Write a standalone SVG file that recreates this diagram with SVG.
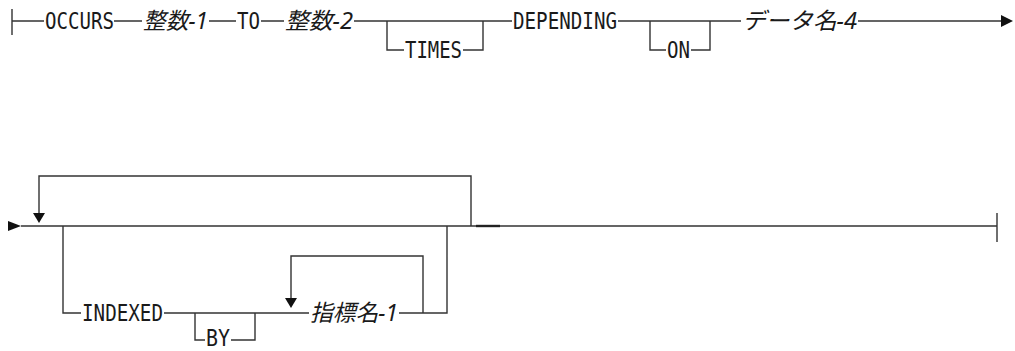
<svg xmlns="http://www.w3.org/2000/svg" width="1015" height="351" viewBox="0 0 1015 351">
<style>
.kw{font-family:"DejaVu Sans Mono","Liberation Mono",monospace;font-size:23px;fill:#1a1a1a}
.var{font-family:"Noto Sans","Noto Sans CJK JP",sans-serif;font-style:italic;font-size:23px;fill:#1a1a1a}
.ln{fill:none;stroke:#333;stroke-width:1.4}
.ah{fill:#111}
</style>
<rect width="1015" height="351" fill="#fff"/>
<g id="connectors">
<path class="ln" d="M12,9V35M12,21H44M114,21H142M209,21H236M261,21H284M354,21H512M387,21V50H404M463,50H483V21M618,21H741M650,21V50H666M691,50H710V21M858,21H1001"/>
<polygon class="ah" points="1001,15 1013,21 1001,27"/>
<path class="ln" d="M21,226H997M997,213V242M39,213V176H471V226M63,226V313H81M164,313H309M195,313V340H205M231,340H255V313M399,313H447V226M291,298V256H423V313"/>
<path d="M476,226H500" stroke="#222" stroke-width="2.4"/>
<polygon class="ah" points="8,221 21,226 8,231"/>
<polygon class="ah" points="33,213 45,213 39,223"/>
<polygon class="ah" points="285,298 297,298 291,308"/>
</g>
<g id="n-occurs"><text class="kw" x="45" y="29" textLength="69" lengthAdjust="spacingAndGlyphs">OCCURS</text></g>
<g id="n-int1"><text class="var" x="143" y="29" textLength="65" lengthAdjust="spacingAndGlyphs">整数-1</text></g>
<g id="n-to"><text class="kw" x="237" y="29" textLength="23" lengthAdjust="spacingAndGlyphs">TO</text></g>
<g id="n-int2"><text class="var" x="285" y="29" textLength="68" lengthAdjust="spacingAndGlyphs">整数-2</text></g>
<g id="n-times"><text class="kw" x="405" y="58" textLength="57" lengthAdjust="spacingAndGlyphs">TIMES</text></g>
<g id="n-depending"><text class="kw" x="513" y="29" textLength="104" lengthAdjust="spacingAndGlyphs">DEPENDING</text></g>
<g id="n-on"><text class="kw" x="667" y="58" textLength="23" lengthAdjust="spacingAndGlyphs">ON</text></g>
<g id="n-data4"><text class="var" x="742" y="29" textLength="115" lengthAdjust="spacingAndGlyphs">データ名-4</text></g>
<g id="n-indexed"><text class="kw" x="82" y="321" textLength="81" lengthAdjust="spacingAndGlyphs">INDEXED</text></g>
<g id="n-by"><text class="kw" x="206" y="346" textLength="24" lengthAdjust="spacingAndGlyphs" font-size="20">BY</text></g>
<g id="n-index1"><text class="var" x="310" y="321" textLength="88" lengthAdjust="spacingAndGlyphs">指標名-1</text></g>
</svg>
